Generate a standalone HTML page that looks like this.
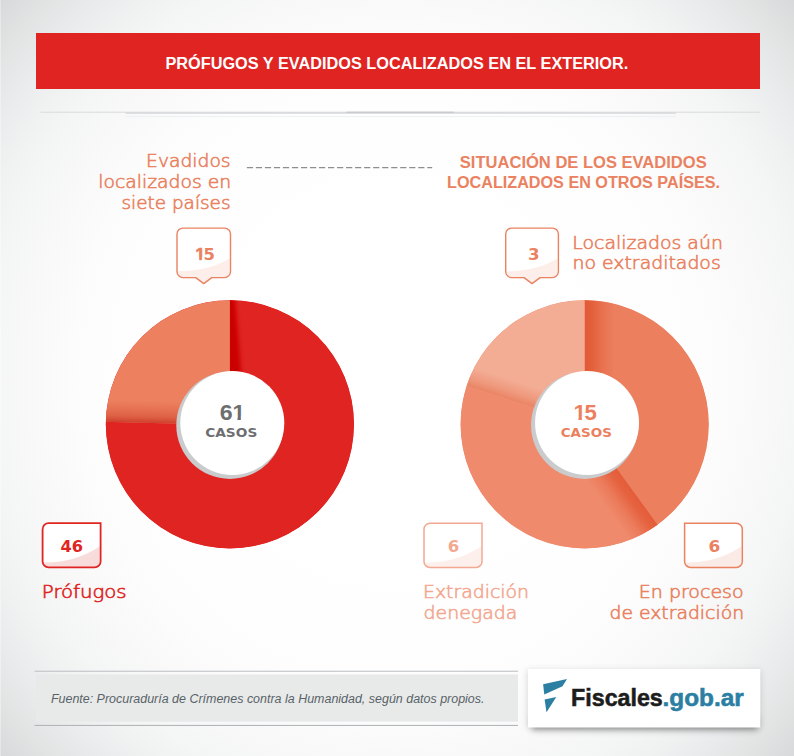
<!DOCTYPE html>
<html lang="es"><head><meta charset="utf-8"><title>Prófugos y evadidos localizados en el exterior</title>
<style>html,body{margin:0;padding:0;background:#fff}body{width:794px;height:756px;overflow:hidden}svg{display:block}</style>
</head><body>
<svg width="794" height="756" viewBox="0 0 794 756">
<defs>
<radialGradient id="bgr" gradientUnits="userSpaceOnUse" cx="0" cy="0" r="1" gradientTransform="translate(397 378) scale(537 561)">
<stop offset="0" stop-color="#ffffff"/><stop offset="0.5" stop-color="#fefefe"/><stop offset="0.6" stop-color="#fcfcfc"/><stop offset="0.7" stop-color="#f8f8f9"/><stop offset="0.767" stop-color="#f4f5f5"/><stop offset="0.816" stop-color="#f0f1f1"/><stop offset="0.872" stop-color="#eaebec"/><stop offset="0.934" stop-color="#e2e4e4"/><stop offset="1.0" stop-color="#d7d9da"/>
</radialGradient>
<filter id="blur4" x="-20%" y="-50%" width="140%" height="250%"><feGaussianBlur stdDeviation="3"/></filter>
<filter id="bl2" x="-10%" y="-50%" width="120%" height="200%"><feGaussianBlur stdDeviation="2"/></filter>
<filter id="blur1" x="-10%" y="-300%" width="120%" height="700%"><feGaussianBlur stdDeviation="0.8"/></filter>

<clipPath id="ccL"><circle cx="229.9" cy="424.3" r="124.1"/></clipPath><clipPath id="ccR"><circle cx="584.65" cy="424.3" r="124.1"/></clipPath>
<clipPath id="cL1"><path d="M229.9,424.3 L229.90,300.20 A124.1,124.1 0 1 1 105.84,421.10 Z"/></clipPath>
<clipPath id="cL2"><path d="M229.9,424.90000000000003 L103.84,421.65 A126.1,126.1 0 0 1 229.90,298.80 Z"/></clipPath>
<clipPath id="cR1"><path d="M584.65,424.3 L584.65,300.20 A124.1,124.1 0 0 1 657.59,524.70 Z"/></clipPath>
<clipPath id="cR2"><path d="M584.65,424.3 L657.59,524.70 A124.1,124.1 0 0 1 466.62,385.95 Z"/></clipPath>
<clipPath id="cR3"><path d="M584.65,424.3 L466.62,385.95 A124.1,124.1 0 0 1 584.65,300.20 Z"/></clipPath>
<clipPath id="kc1"><path d="M231.43,397.30 H248.18 V416.76 H240.85 V420.80 H237.49 V416.76 H231.43 Z"/></clipPath><clipPath id="kr1"><path d="M572.43,397.30 H589.18 V416.76 H581.85 V420.80 H578.49 V416.76 H572.43 Z"/></clipPath><clipPath id="kb1"><path d="M194.48,242.80 H207.38 V257.50 H201.85 V260.80 H199.30 V257.50 H194.48 Z"/></clipPath><linearGradient id="sg0" gradientUnits="userSpaceOnUse" x1="0" y1="0" x2="0" y2="22"><stop offset="0" stop-color="#cf3f2c" stop-opacity="1"/><stop offset="0.3" stop-color="#d9553b" stop-opacity="0.7"/><stop offset="1" stop-color="#e0603f" stop-opacity="0"/></linearGradient><linearGradient id="sg1" gradientUnits="userSpaceOnUse" x1="0" y1="0" x2="0" y2="30"><stop offset="0" stop-color="#e25a36" stop-opacity="1"/><stop offset="0.25" stop-color="#e25a36" stop-opacity="0.85"/><stop offset="0.6" stop-color="#e25a36" stop-opacity="0.35"/><stop offset="1" stop-color="#e25a36" stop-opacity="0"/></linearGradient><linearGradient id="sg2" gradientUnits="userSpaceOnUse" x1="0" y1="0" x2="0" y2="32"><stop offset="0" stop-color="#e45c39" stop-opacity="1"/><stop offset="0.25" stop-color="#e45c39" stop-opacity="0.85"/><stop offset="0.6" stop-color="#e45c39" stop-opacity="0.35"/><stop offset="1" stop-color="#e45c39" stop-opacity="0"/></linearGradient><linearGradient id="sg3" gradientUnits="userSpaceOnUse" x1="0" y1="0" x2="0" y2="20"><stop offset="0" stop-color="#ea8363" stop-opacity="1"/><stop offset="0.4" stop-color="#ea8363" stop-opacity="0.5"/><stop offset="1" stop-color="#ea8363" stop-opacity="0"/></linearGradient></defs>
<rect width="794" height="756" fill="url(#bgr)"/>
<rect x="0" y="0" width="1" height="756" fill="#fff" opacity="0.35"/>
<rect x="36" y="33" width="724" height="56" fill="#e02422"/>
<text x="165.44" y="69" font-family='"Liberation Sans", sans-serif' font-weight="700" font-size="16" fill="#fff" textLength="462.85" lengthAdjust="spacingAndGlyphs">PRÓFUGOS Y EVADIDOS LOCALIZADOS EN EL EXTERIOR.</text>
<rect x="40.5" y="111.7" width="719.5" height="1" fill="#d9dbdd"/>
<rect x="125.5" y="112.2" width="550.5" height="1.6" fill="#d7d9db"/>
<rect x="346.5" y="111.7" width="107.5" height="1" fill="#c2c4c6"/>
<rect x="125.5" y="116.1" width="550.5" height="1" fill="#eeeff0"/>
<text x="146.09" y="166.8" text-anchor="start" font-family='"DejaVu Sans", "Liberation Sans", sans-serif' font-weight="200" font-size="18" fill="#ea8160" stroke="#ea8160" stroke-width="0.6" textLength="84.52" lengthAdjust="spacingAndGlyphs">Evadidos</text>
<text x="98.22" y="187.9" text-anchor="start" font-family='"DejaVu Sans", "Liberation Sans", sans-serif' font-weight="200" font-size="18" fill="#ea8160" stroke="#ea8160" stroke-width="0.6" textLength="133.01" lengthAdjust="spacingAndGlyphs">localizados en</text>
<text x="121.46" y="209.1" text-anchor="start" font-family='"DejaVu Sans", "Liberation Sans", sans-serif' font-weight="200" font-size="18" fill="#ea8160" stroke="#ea8160" stroke-width="0.6" textLength="109.09" lengthAdjust="spacingAndGlyphs">siete países</text>
<line x1="246.85" y1="167.5" x2="432.2" y2="167.5" stroke="#8e8e8e" stroke-width="1.25" stroke-dasharray="6.2 2.82"/>
<text x="459.84" y="167.7" font-family='"Liberation Sans", sans-serif' font-weight="700" font-size="16" fill="#ea8160" textLength="246.86" lengthAdjust="spacingAndGlyphs">SITUACIÓN DE LOS EVADIDOS</text>
<text x="447.05" y="187.5" font-family='"Liberation Sans", sans-serif' font-weight="700" font-size="16" fill="#ea8160" textLength="272.97" lengthAdjust="spacingAndGlyphs">LOCALIZADOS EN OTROS PAÍSES.</text>
<text x="572.31" y="248.6" text-anchor="start" font-family='"DejaVu Sans", "Liberation Sans", sans-serif' font-weight="200" font-size="18" fill="#ea8160" stroke="#ea8160" stroke-width="0.6" textLength="150.59" lengthAdjust="spacingAndGlyphs">Localizados aún</text>
<text x="572.52" y="269.3" text-anchor="start" font-family='"DejaVu Sans", "Liberation Sans", sans-serif' font-weight="200" font-size="18" fill="#ea8160" stroke="#ea8160" stroke-width="0.6" textLength="148.24" lengthAdjust="spacingAndGlyphs">no extraditados</text>
<text x="41.87" y="598.4" text-anchor="start" font-family='"DejaVu Sans", "Liberation Sans", sans-serif' font-weight="200" font-size="18" fill="#e02422" stroke="#e02422" stroke-width="0.6" textLength="84.74" lengthAdjust="spacingAndGlyphs">Prófugos</text>
<text x="422.98" y="598.4" text-anchor="start" font-family='"DejaVu Sans", "Liberation Sans", sans-serif' font-weight="200" font-size="18" fill="#f3a891" stroke="#f3a891" stroke-width="0.6" textLength="106.07" lengthAdjust="spacingAndGlyphs">Extradición</text>
<text x="423.58" y="618.8" text-anchor="start" font-family='"DejaVu Sans", "Liberation Sans", sans-serif' font-weight="200" font-size="18" fill="#f3a891" stroke="#f3a891" stroke-width="0.6" textLength="93.84" lengthAdjust="spacingAndGlyphs">denegada</text>
<text x="638.84" y="598.4" text-anchor="start" font-family='"DejaVu Sans", "Liberation Sans", sans-serif' font-weight="200" font-size="18" fill="#ea8160" stroke="#ea8160" stroke-width="0.6" textLength="104.8" lengthAdjust="spacingAndGlyphs">En proceso</text>
<text x="609.53" y="618.8" text-anchor="start" font-family='"DejaVu Sans", "Liberation Sans", sans-serif' font-weight="200" font-size="18" fill="#ea8160" stroke="#ea8160" stroke-width="0.6" textLength="134.55" lengthAdjust="spacingAndGlyphs">de extradición</text>
<circle cx="229.9" cy="424.3" r="124.1" fill="#e02422"/><circle cx="584.65" cy="424.3" r="124.1" fill="#ef8b6c"/>
<g clip-path="url(#cL1)"><circle cx="229.9" cy="424.3" r="124.1" fill="#e02422"/><g transform="translate(229.9,424.3) rotate(-90)"><polygon points="40,-8 130.1,-8 130.1,5 40,12.5" fill="#cb0303" filter="url(#bl2)"/></g></g>
<g clip-path="url(#cL2)"><g clip-path="url(#ccL)"><circle cx="229.9" cy="424.3" r="124.1" fill="#ec805f"/><g transform="translate(229.9,424.90000000000003) rotate(181.475)"><rect x="0" y="-4" width="128.1" height="26" fill="url(#sg0)"/></g></g></g>
<g clip-path="url(#cR1)"><circle cx="584.65" cy="424.3" r="124.1" fill="#ec7f5e"/><g transform="translate(584.65,424.3) rotate(-90.000)"><rect x="0" y="-4" width="128.1" height="34" fill="url(#sg1)"/></g></g>
<g clip-path="url(#cR2)"><circle cx="584.65" cy="424.3" r="124.1" fill="#ef8b6c"/><g transform="translate(584.65,424.3) rotate(54.000)"><rect x="0" y="-4" width="128.1" height="36" fill="url(#sg2)"/></g></g>
<g clip-path="url(#cR3)"><circle cx="584.65" cy="424.3" r="124.1" fill="#f3ad95"/><g transform="translate(584.65,424.3) rotate(198.000)"><rect x="0" y="-4" width="128.1" height="24" fill="url(#sg3)"/></g></g>
<circle cx="229.9" cy="425.3" r="53.6" fill="#c9cbcd"/>
<circle cx="232.3" cy="423.0" r="52" fill="#fff"/>
<text x="219.73" y="419.8" font-family='"Liberation Sans", sans-serif' font-weight="700" font-size="22.5" fill="#6d6e70" textLength="12.86" lengthAdjust="spacingAndGlyphs">6</text>
<g clip-path="url(#kc1)"><text x="232.43" y="419.8" font-family='"Liberation Sans", sans-serif' font-weight="700" font-size="22.5" fill="#6d6e70" stroke="#6d6e70" stroke-width="0">1</text></g>
<text x="205.19" y="436.7" font-family='"DejaVu Sans", "Liberation Sans", sans-serif' font-weight="700" font-size="13" fill="#6d6e70" textLength="52.09" lengthAdjust="spacingAndGlyphs">CASOS</text>
<circle cx="584.65" cy="425.3" r="53.6" fill="#c9cbcd"/>
<circle cx="587.05" cy="423.0" r="52" fill="#fff"/>
<g clip-path="url(#kr1)"><text x="573.43" y="419.8" font-family='"Liberation Sans", sans-serif' font-weight="700" font-size="22.5" fill="#ec7f5e" stroke="#ec7f5e" stroke-width="0">1</text></g>
<text x="584.49" y="419.8" font-family='"Liberation Sans", sans-serif' font-weight="700" font-size="22.5" fill="#ec7f5e" textLength="12.31" lengthAdjust="spacingAndGlyphs">5</text>
<text x="560.74" y="436.7" font-family='"DejaVu Sans", "Liberation Sans", sans-serif' font-weight="700" font-size="13" fill="#ec7f5e" textLength="51.17" lengthAdjust="spacingAndGlyphs">CASOS</text>
<path d="M183,228.1 H224.5 A6,6 0 0 1 230.5,234.1 V271.6 A6,6 0 0 1 224.5,277.6 H211.75 L203.75,283.6 L195.75,277.6 H183 A6,6 0 0 1 177,271.6 V234.1 A6,6 0 0 1 183,228.1 Z" fill="#fff"/><path d="M211.75,276.6 L203.75,283.6 L195.75,276.6 Z" fill="#fdeee9"/><path d="M178,271.3 Q209.5,271.1 229.5,258.6 V271.6 A6,6 0 0 1 224.5,277.1 H183 A6,6 0 0 1 178,271.6 Z" fill="#fdeee9"/><path d="M183,228.1 H224.5 A6,6 0 0 1 230.5,234.1 V271.6 A6,6 0 0 1 224.5,277.6 H211.75 L203.75,283.6 L195.75,277.6 H183 A6,6 0 0 1 177,271.6 V234.1 A6,6 0 0 1 183,228.1 Z" fill="none" stroke="#ea8160" stroke-width="1.4" stroke-linejoin="round"/>
<g clip-path="url(#kb1)"><text x="195.48" y="259.8" font-family='"Liberation Sans", sans-serif' font-weight="700" font-size="17" fill="#ea8160" stroke="#ea8160" stroke-width="0.7">1</text></g>
<text x="203.41" y="259.8" font-family='"DejaVu Sans", "Liberation Sans", sans-serif' font-weight="700" font-size="16.5" fill="#ea8160" textLength="11.38" lengthAdjust="spacingAndGlyphs">5</text>
<path d="M511.7,228.1 H552.4 A6,6 0 0 1 558.4,234.1 V271.6 A6,6 0 0 1 552.4,277.6 H540.05 L532.05,283.6 L524.05,277.6 H511.7 A6,6 0 0 1 505.7,271.6 V234.1 A6,6 0 0 1 511.7,228.1 Z" fill="#fff"/><path d="M540.05,276.6 L532.05,283.6 L524.05,276.6 Z" fill="#fdeee9"/><path d="M506.7,271.3 Q537.4,271.1 557.4,258.6 V271.6 A6,6 0 0 1 552.4,277.1 H511.7 A6,6 0 0 1 506.7,271.6 Z" fill="#fdeee9"/><path d="M511.7,228.1 H552.4 A6,6 0 0 1 558.4,234.1 V271.6 A6,6 0 0 1 552.4,277.6 H540.05 L532.05,283.6 L524.05,277.6 H511.7 A6,6 0 0 1 505.7,271.6 V234.1 A6,6 0 0 1 511.7,228.1 Z" fill="none" stroke="#ea8160" stroke-width="1.4" stroke-linejoin="round"/>
<text x="527.94" y="259.8" font-family='"DejaVu Sans", "Liberation Sans", sans-serif' font-weight="700" font-size="16.5" fill="#ea8160" textLength="11.57" lengthAdjust="spacingAndGlyphs">3</text>
<path d="M48.6,523.2 H100.6 V561.4 A6,6 0 0 1 94.6,567.4 H48.6 A6,6 0 0 1 42.6,561.4 V529.2 A6,6 0 0 1 48.6,523.2 Z" fill="#fff"/><path d="M43.6,562.4 Q74.6,562.9 99.6,546.4 V561.4 A6,6 0 0 1 94.6,566.9 H48.6 A6,6 0 0 1 43.6,561.4 Z" fill="#f8dcdc"/><path d="M48.6,523.2 H100.6 V561.4 A6,6 0 0 1 94.6,567.4 H48.6 A6,6 0 0 1 42.6,561.4 V529.2 A6,6 0 0 1 48.6,523.2 Z" fill="none" stroke="#e02422" stroke-width="1.8" stroke-linejoin="miter"/>
<text x="60.50" y="552" font-family='"DejaVu Sans", "Liberation Sans", sans-serif' font-weight="700" font-size="16.5" fill="#e02422" textLength="22.55" lengthAdjust="spacingAndGlyphs">46</text>
<path d="M430,523.2 H482 V561.4 A6,6 0 0 1 476,567.4 H430 A6,6 0 0 1 424,561.4 V529.2 A6,6 0 0 1 430,523.2 Z" fill="#fff"/><path d="M425,562.4 Q456,562.9 481,546.4 V561.4 A6,6 0 0 1 476,566.9 H430 A6,6 0 0 1 425,561.4 Z" fill="#fdf0ec"/><path d="M430,523.2 H482 V561.4 A6,6 0 0 1 476,567.4 H430 A6,6 0 0 1 424,561.4 V529.2 A6,6 0 0 1 430,523.2 Z" fill="none" stroke="#f3a891" stroke-width="1.5" stroke-linejoin="miter"/>
<text x="447.65" y="552" font-family='"DejaVu Sans", "Liberation Sans", sans-serif' font-weight="700" font-size="16.5" fill="#f3a891" textLength="11.54" lengthAdjust="spacingAndGlyphs">6</text>
<path d="M684.6,523.2 H736.3 A6,6 0 0 1 742.3,529.2 V561.4 A6,6 0 0 1 736.3,567.4 H690.6 A6,6 0 0 1 684.6,561.4 V523.2 Z" fill="#fff"/><path d="M685.6,562.4 Q716.3,562.9 741.3,546.4 V561.4 A6,6 0 0 1 736.3,566.9 H690.6 A6,6 0 0 1 685.6,561.4 Z" fill="#fbebe6"/><path d="M684.6,523.2 H736.3 A6,6 0 0 1 742.3,529.2 V561.4 A6,6 0 0 1 736.3,567.4 H690.6 A6,6 0 0 1 684.6,561.4 V523.2 Z" fill="none" stroke="#ea8160" stroke-width="1.5" stroke-linejoin="miter"/>
<text x="708.59" y="552" font-family='"DejaVu Sans", "Liberation Sans", sans-serif' font-weight="700" font-size="16.5" fill="#ea8160" textLength="11.78" lengthAdjust="spacingAndGlyphs">6</text>
<rect x="34.5" y="670.7" width="483.5" height="1.1" fill="#c0c3c5"/>
<rect x="36" y="674.4" width="482" height="47.3" fill="#e8eaea"/>
<rect x="34.5" y="724.9" width="483.5" height="1.1" fill="#b4b7ba"/>
<text x="50.92" y="702.7" font-family='"Liberation Sans", sans-serif' font-style="italic" font-size="12" fill="#596267" textLength="433.57" lengthAdjust="spacingAndGlyphs">Fuente: Procuraduría de Crímenes contra la Humanidad, según datos propios.</text>
<rect x="527" y="670" width="234" height="58" fill="#666" opacity="0.22" filter="url(#blur4)"/>
<rect x="532" y="718" width="225.5" height="12" fill="#3c3c3c" opacity="0.5" filter="url(#blur4)"/>
<rect x="528" y="669" width="232.3" height="58.5" fill="#fff"/>
<polygon points="543.1,684.3 567,679.1 562.5,686.2 544.3,694.5" fill="#2b7fa3"/>
<polygon points="544.6,699.5 556.3,697 546.5,712.3" fill="#2b7fa3"/>
<text x="571.08" y="706.3" font-family='"Liberation Sans", sans-serif' font-weight="700" font-size="23" fill="#1c1c1c" stroke="#1c1c1c" stroke-width="0.55" textLength="91.68" lengthAdjust="spacingAndGlyphs">Fiscales</text>
<text x="662.62" y="706.3" font-family='"Liberation Sans", sans-serif' font-weight="700" font-size="23" fill="#2b7fa3" stroke="#2b7fa3" stroke-width="0.55" textLength="81.15" lengthAdjust="spacingAndGlyphs">.gob.ar</text>
</svg>
</body></html>
